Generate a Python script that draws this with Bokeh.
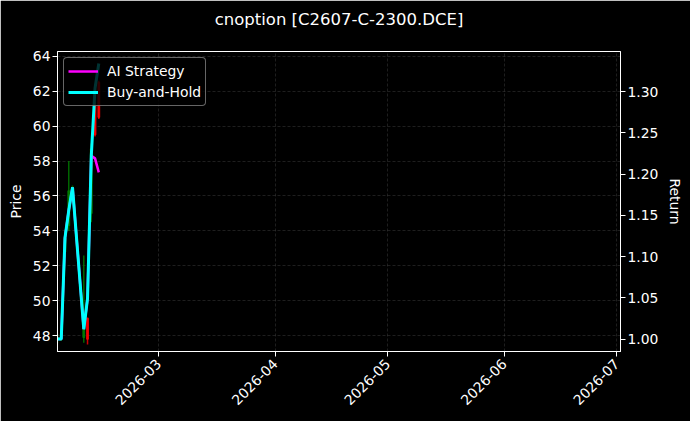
import math
import pandas as pd
from bokeh.plotting import figure
from bokeh.models import (
    ColumnDataSource, LinearAxis, Range1d, FixedTicker, Title,
    DatetimeTickFormatter, NumeralTickFormatter, Legend, LegendItem
)
from bokeh.embed import file_html
from bokeh.resources import INLINE

# ---------------------------- data ----------------------------------
dates = ["2026-02-02", "2026-02-03", "2026-02-04", "2026-02-05", "2026-02-06",
         "2026-02-09", "2026-02-10", "2026-02-11", "2026-02-12", "2026-02-13"]
opens = [47.8, 47.9, 52.8, 54.3, 56.4, 47.9, 49.0, 55.0, 61.2, 62.5]
highs = [48.1, 48.2, 54.0, 58.0, 56.6, 52.6, 49.05, 59.0, 61.4, 62.6]
lows = [47.6, 47.7, 52.5, 54.0, 56.3, 47.6, 47.5, 54.5, 59.4, 60.4]
closes = [47.9, 47.95, 53.6, 56.3, 56.5, 48.6, 47.8, 58.7, 59.5, 60.5]

bh_return = [1.000, 1.000, 1.123, 1.156, 1.184, 1.012, 1.049, 1.222, 1.304, 1.334]
ai_return = [1.000, 1.000, 1.123, 1.156, 1.184, 1.012, 1.049, 1.222, 1.219, 1.202]

x_start, x_end = "2026-02-02", "2026-07-02"
price_lim = (47.1, 64.27)
return_lim = (0.985, 1.3485)
month_ticks = ["2026-03-01", "2026-04-01", "2026-05-01", "2026-06-01", "2026-07-01"]
price_ticks = [48, 50, 52, 54, 56, 58, 60, 62, 64]
return_ticks = [1.00, 1.05, 1.10, 1.15, 1.20, 1.25, 1.30]

FONT = "DejaVu Sans"
DAY_MS = 86400000


def ms(d):
    return pd.Timestamp(d).value / 1e6


# -------------------------- sources ---------------------------------
dt = pd.to_datetime(dates)
candle = pd.DataFrame(dict(date=dt, open=opens, high=highs, low=lows, close=closes))
candle["top"] = candle[["open", "close"]].max(axis=1)
candle["bottom"] = candle[["open", "close"]].min(axis=1)
candle["color"] = ["green" if c >= o else "red" for o, c in zip(opens, closes)]
csrc = ColumnDataSource(candle)

lsrc = ColumnDataSource(dict(date=dt, bh=bh_return, ai=ai_return))

# --------------------------- figure ---------------------------------
p = figure(
    width=690, height=421,
    x_axis_type="datetime",
    x_range=Range1d(ms(x_start), ms(x_end)),
    y_range=Range1d(*price_lim),
    output_backend="svg",
    toolbar_location=None,
    title="cnoption [C2607-C-2300.DCE]",
    min_border_left=57, min_border_right=70,
    min_border_top=51, min_border_bottom=70,
)
p.background_fill_color = "black"
p.border_fill_color = "black"
p.outline_line_color = "white"
p.outline_line_width = 1

p.title.text_color = "white"
p.title.text_font = FONT
p.title.text_font_size = "16.5px"
p.title.text_font_style = "normal"
p.title.align = "center"
p.title.standoff = 4
# empty spacer between the frame and the title to lift the title up
p.add_layout(Title(text=" ", text_font_size="1px", standoff=18), "above")

p.extra_y_ranges = {"ret": Range1d(*return_lim)}

# candles
p.segment(x0="date", x1="date", y0="low", y1="high", color="color",
          line_width=1.5, alpha=0.8, source=csrc)
p.vbar(x="date", top="top", bottom="bottom", width=0.5 * DAY_MS,
       fill_color="color", line_color="color", alpha=0.8, source=csrc)

ai_line = p.line("date", "ai", source=lsrc, color="#ff00ff", line_width=2.5,
                 y_range_name="ret")
bh_line = p.line("date", "bh", source=lsrc, color="#00ffff", line_width=3,
                 y_range_name="ret")

# --------------------------- axes -----------------------------------
p.xaxis.ticker = FixedTicker(ticks=[ms(t) for t in month_ticks])
p.xaxis.formatter = DatetimeTickFormatter(
    months="%Y-%m", days="%Y-%m", years="%Y-%m", hours="%Y-%m")
p.xaxis.major_label_orientation = math.pi / 4

p.yaxis.ticker = FixedTicker(ticks=price_ticks)
p.yaxis.axis_label = "Price"

ret_axis = LinearAxis(y_range_name="ret", axis_label="Return",
                      ticker=FixedTicker(ticks=return_ticks),
                      formatter=NumeralTickFormatter(format="0.00"))
p.add_layout(ret_axis, "right")

for ax in p.xaxis + p.yaxis + [ret_axis]:
    ax.axis_line_color = "white"
    ax.major_tick_line_color = "white"
    ax.minor_tick_line_color = None
    ax.major_tick_out = 5
    ax.major_tick_in = 0
    ax.major_label_text_color = "white"
    ax.major_label_text_font = FONT
    ax.major_label_text_font_size = "13.9px"
    ax.major_label_standoff = 2
    ax.axis_label_text_color = "white"
    ax.axis_label_text_font = FONT
    ax.axis_label_text_font_size = "13.9px"
    ax.axis_label_text_font_style = "normal"
    ax.axis_label_standoff = 6
p.xaxis.major_label_standoff = 5

for g in (p.xgrid, p.ygrid):
    g.grid_line_color = "#808080"
    g.grid_line_alpha = 0.4
    g.grid_line_dash = "3 2"
    g.grid_line_width = 0.6

# -------------------------- legend ----------------------------------
legend = Legend(
    items=[LegendItem(label="AI Strategy", renderers=[ai_line]),
           LegendItem(label="Buy-and-Hold", renderers=[bh_line])],
    location="top_left",
    margin=6, padding=4, spacing=3,
    glyph_width=30, glyph_height=18, label_height=18,
    label_standoff=9,
    label_text_color="white", label_text_font=FONT, label_text_font_size="13.9px",
    background_fill_color="black", background_fill_alpha=0.8,
    border_line_color="#cccccc", border_line_width=1,
)
if "border_radius" in legend.properties():
    legend.border_radius = 4
p.add_layout(legend)

open("out.html", "w").write(file_html(p, INLINE))
